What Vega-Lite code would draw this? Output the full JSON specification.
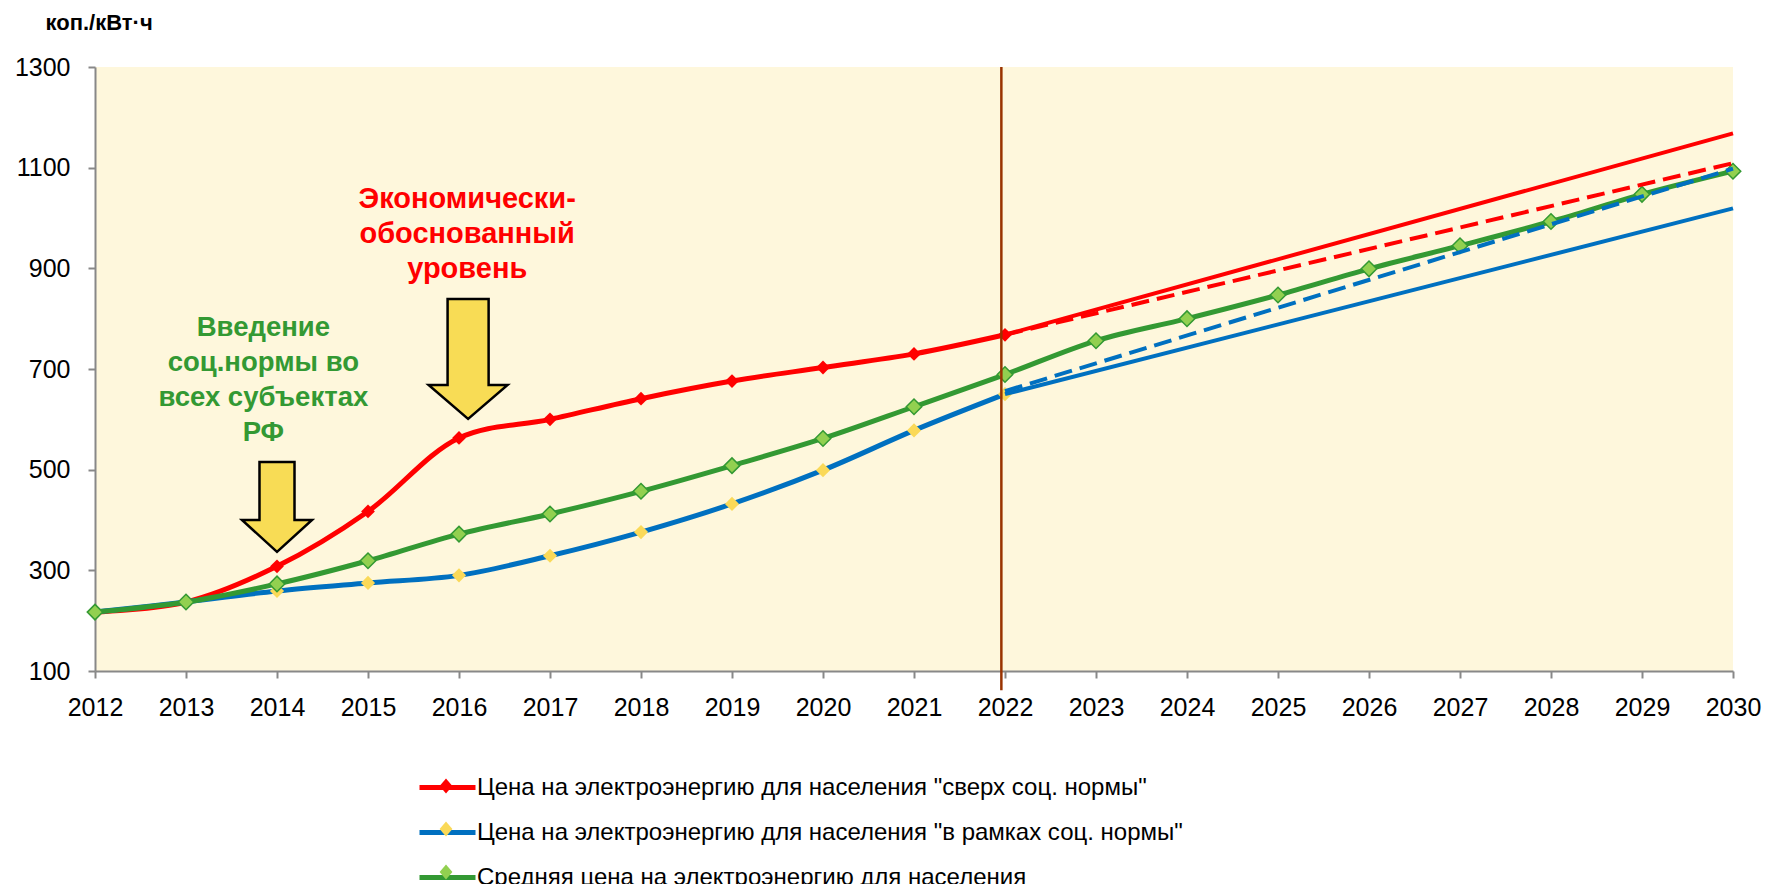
{
  "$schema": "https://vega.github.io/schema/vega-lite/v6.json",
  "width": 1638,
  "height": 604,
  "autosize": {"type": "none"},
  "padding": {"left": 95, "top": 67, "right": 34, "bottom": 213},
  "background": "#FFFFFF",
  "config": {
    "font": "Liberation Sans",
    "view": {"stroke": null, "fill": "#FEF7DC"},
    "axis": {
      "domainColor": "#888888", "domainWidth": 2, "tickColor": "#888888", "tickWidth": 2,
      "tickSize": 7, "labelFontSize": 25, "labelColor": "#000000", "grid": false, "labelPadding": 16,
      "labelFont": "Liberation Sans"
    }
  },
  "datasets": {
    "lines": [
      {"series": "Цена на электроэнергию для населения \"сверх соц. нормы\"", "part": "hist", "year": 2012, "value": 217},
      {"series": "Цена на электроэнергию для населения \"сверх соц. нормы\"", "part": "hist", "year": 2013, "value": 237},
      {"series": "Цена на электроэнергию для населения \"сверх соц. нормы\"", "part": "hist", "year": 2014, "value": 308},
      {"series": "Цена на электроэнергию для населения \"сверх соц. нормы\"", "part": "hist", "year": 2015, "value": 417},
      {"series": "Цена на электроэнергию для населения \"сверх соц. нормы\"", "part": "hist", "year": 2016, "value": 563},
      {"series": "Цена на электроэнергию для населения \"сверх соц. нормы\"", "part": "hist", "year": 2017, "value": 600},
      {"series": "Цена на электроэнергию для населения \"сверх соц. нормы\"", "part": "hist", "year": 2018, "value": 641},
      {"series": "Цена на электроэнергию для населения \"сверх соц. нормы\"", "part": "hist", "year": 2019, "value": 676},
      {"series": "Цена на электроэнергию для населения \"сверх соц. нормы\"", "part": "hist", "year": 2020, "value": 703},
      {"series": "Цена на электроэнергию для населения \"сверх соц. нормы\"", "part": "hist", "year": 2021, "value": 730},
      {"series": "Цена на электроэнергию для населения \"сверх соц. нормы\"", "part": "hist", "year": 2022, "value": 768},
      {"series": "Цена на электроэнергию для населения \"в рамках соц. нормы\"", "part": "hist", "year": 2012, "value": 217},
      {"series": "Цена на электроэнергию для населения \"в рамках соц. нормы\"", "part": "hist", "year": 2013, "value": 237},
      {"series": "Цена на электроэнергию для населения \"в рамках соц. нормы\"", "part": "hist", "year": 2014, "value": 259},
      {"series": "Цена на электроэнергию для населения \"в рамках соц. нормы\"", "part": "hist", "year": 2015, "value": 275},
      {"series": "Цена на электроэнергию для населения \"в рамках соц. нормы\"", "part": "hist", "year": 2016, "value": 290},
      {"series": "Цена на электроэнергию для населения \"в рамках соц. нормы\"", "part": "hist", "year": 2017, "value": 329},
      {"series": "Цена на электроэнергию для населения \"в рамках соц. нормы\"", "part": "hist", "year": 2018, "value": 376},
      {"series": "Цена на электроэнергию для населения \"в рамках соц. нормы\"", "part": "hist", "year": 2019, "value": 432},
      {"series": "Цена на электроэнергию для населения \"в рамках соц. нормы\"", "part": "hist", "year": 2020, "value": 499},
      {"series": "Цена на электроэнергию для населения \"в рамках соц. нормы\"", "part": "hist", "year": 2021, "value": 578},
      {"series": "Цена на электроэнергию для населения \"в рамках соц. нормы\"", "part": "hist", "year": 2022, "value": 650},
      {"series": "Средняя цена на электроэнергию для населения", "part": "hist", "year": 2012, "value": 217},
      {"series": "Средняя цена на электроэнергию для населения", "part": "hist", "year": 2013, "value": 237},
      {"series": "Средняя цена на электроэнергию для населения", "part": "hist", "year": 2014, "value": 273},
      {"series": "Средняя цена на электроэнергию для населения", "part": "hist", "year": 2015, "value": 319},
      {"series": "Средняя цена на электроэнергию для населения", "part": "hist", "year": 2016, "value": 372},
      {"series": "Средняя цена на электроэнергию для населения", "part": "hist", "year": 2017, "value": 412},
      {"series": "Средняя цена на электроэнергию для населения", "part": "hist", "year": 2018, "value": 457},
      {"series": "Средняя цена на электроэнергию для населения", "part": "hist", "year": 2019, "value": 508},
      {"series": "Средняя цена на электроэнергию для населения", "part": "hist", "year": 2020, "value": 562},
      {"series": "Средняя цена на электроэнергию для населения", "part": "hist", "year": 2021, "value": 625},
      {"series": "Средняя цена на электроэнергию для населения", "part": "hist", "year": 2022, "value": 689},
      {"series": "Средняя цена на электроэнергию для населения", "part": "hist", "year": 2023, "value": 756},
      {"series": "Средняя цена на электроэнергию для населения", "part": "hist", "year": 2024, "value": 800},
      {"series": "Средняя цена на электроэнергию для населения", "part": "hist", "year": 2025, "value": 847},
      {"series": "Средняя цена на электроэнергию для населения", "part": "hist", "year": 2026, "value": 899},
      {"series": "Средняя цена на электроэнергию для населения", "part": "hist", "year": 2027, "value": 945},
      {"series": "Средняя цена на электроэнергию для населения", "part": "hist", "year": 2028, "value": 993},
      {"series": "Средняя цена на электроэнергию для населения", "part": "hist", "year": 2029, "value": 1047},
      {"series": "Средняя цена на электроэнергию для населения", "part": "hist", "year": 2030, "value": 1093},
      {"series": "Цена на электроэнергию для населения \"сверх соц. нормы\"", "part": "solid", "year": 2022, "value": 768},
      {"series": "Цена на электроэнергию для населения \"сверх соц. нормы\"", "part": "solid", "year": 2030, "value": 1168},
      {"series": "Цена на электроэнергию для населения \"в рамках соц. нормы\"", "part": "solid", "year": 2022, "value": 650},
      {"series": "Цена на электроэнергию для населения \"в рамках соц. нормы\"", "part": "solid", "year": 2030, "value": 1019},
      {"series": "Цена на электроэнергию для населения \"сверх соц. нормы\"", "part": "dash", "year": 2022, "value": 768},
      {"series": "Цена на электроэнергию для населения \"сверх соц. нормы\"", "part": "dash", "year": 2030, "value": 1109},
      {"series": "Цена на электроэнергию для населения \"в рамках соц. нормы\"", "part": "dash", "year": 2022, "value": 656},
      {"series": "Цена на электроэнергию для населения \"в рамках соц. нормы\"", "part": "dash", "year": 2030, "value": 1098}
    ]
  },
  "encoding": {
    "x": {
      "field": "year", "type": "quantitative",
      "scale": {"domain": [2012, 2030], "nice": false, "zero": false},
      "axis": {"values": [2012,2013,2014,2015,2016,2017,2018,2019,2020,2021,2022,2023,2024,2025,2026,2027,2028,2029,2030], "format": "d", "title": null, "labelFlush": false, "labelPadding": 17}
    },
    "y": {
      "field": "value", "type": "quantitative",
      "scale": {"domain": [100, 1300], "nice": false, "zero": false},
      "axis": {"values": [100,300,500,700,900,1100,1300], "format": "d", "title": "коп./кВт·ч", "titleAngle": 0, "titleX": -50, "titleY": -45,
        "titleAlign": "left", "titleBaseline": "middle", "titleFontSize": 22, "titleFontWeight": "bold", "titleColor": "#000000", "labelPadding": 18}
    }
  },
  "layer": [
    {
      "data": {"name": "lines"},
      "transform": [{"filter": "datum.part === 'hist' && datum.series === 'Цена на электроэнергию для населения \"сверх соц. нормы\"'"}],
      "mark": {"type": "line", "interpolate": "catmull-rom", "strokeWidth": 5},
      "encoding": {
        "color": {"field": "series", "type": "nominal", "sort": "descending",
          "scale": {"range": ["#FF0000", "#0070C0", "#339933"]},
          "legend": {"orient": "none", "legendX": 330, "legendY": 698, "direction": "vertical", "title": null,
            "symbolType": "M-1.4,0H1.4", "symbolSize": 1600, "symbolStrokeWidth": 5, "labelFontSize": 24, "labelOffset": 7,
            "rowPadding": 10, "padding": 0, "zindex": 0, "labelLimit": 1200, "labelColor": "#000000", "labelFont": "Liberation Sans"}}
      }
    },
    {
      "data": {"name": "lines"},
      "transform": [{"filter": "datum.part === 'hist' && datum.series === 'Цена на электроэнергию для населения \"сверх соц. нормы\"'"}],
      "mark": {"type": "point", "shape": "diamond", "size": 190, "filled": true, "opacity": 1, "strokeWidth": 0},
      "encoding": {
        "fill": {"field": "series", "type": "nominal",
          "scale": {"domain": ["Цена на электроэнергию для населения \"сверх соц. нормы\"", "Цена на электроэнергию для населения \"в рамках соц. нормы\"", "Средняя цена на электроэнергию для населения"], "range": ["#FF0000", "#FAD958", "#92D050"]},
          "legend": {"orient": "none", "legendX": 330, "legendY": 698, "direction": "vertical", "title": null,
            "symbolType": "M0,-0.38L0.32,0L0,0.38L-0.32,0Z", "symbolSize": 1600, "symbolStrokeWidth": 1.5, "labelFontSize": 24, "labelOffset": 7,
            "rowPadding": 10, "padding": 0, "zindex": 1, "labelLimit": 1200, "labelExpr": "''", "labelFont": "Liberation Sans",
            "encode": {"symbols": {"update": {"stroke": {"signal": "datum.value === 'Средняя цена на электроэнергию для населения' ? '#339933' : 'transparent'"}, "strokeWidth": {"value": 1.5}}}}}}
      }
    },
    {
      "data": {"name": "lines"},
      "transform": [{"filter": "datum.part === 'hist' && datum.series === 'Цена на электроэнергию для населения \"в рамках соц. нормы\"'"}],
      "mark": {"type": "line", "interpolate": "catmull-rom", "strokeWidth": 5},
      "encoding": {"color": {"field": "series", "type": "nominal", "sort": "descending"}}
    },
    {
      "data": {"name": "lines"},
      "transform": [{"filter": "datum.part === 'hist' && datum.series === 'Цена на электроэнергию для населения \"в рамках соц. нормы\"' && datum.year >= 2014"}],
      "mark": {"type": "point", "shape": "diamond", "size": 200, "filled": true, "opacity": 1, "strokeWidth": 0},
      "encoding": {"fill": {"field": "series", "type": "nominal"}}
    },
    {
      "data": {"name": "lines"},
      "transform": [{"filter": "datum.part === 'hist' && datum.series === 'Средняя цена на электроэнергию для населения'"}],
      "mark": {"type": "line", "interpolate": "catmull-rom", "strokeWidth": 5},
      "encoding": {"color": {"field": "series", "type": "nominal", "sort": "descending"}}
    },
    {
      "data": {"name": "lines"},
      "transform": [{"filter": "datum.part === 'hist' && datum.series === 'Средняя цена на электроэнергию для населения'"}],
      "mark": {"type": "point", "shape": "diamond", "size": 240, "filled": true, "opacity": 1, "stroke": "#339933", "strokeWidth": 1.5},
      "encoding": {"fill": {"field": "series", "type": "nominal"}}
    },
    {
      "data": {"name": "lines"},
      "transform": [{"filter": "datum.part === 'solid'"}],
      "mark": {"type": "line", "strokeWidth": 4},
      "encoding": {"color": {"field": "series", "type": "nominal", "sort": "descending"}}
    },
    {
      "data": {"name": "lines"},
      "transform": [{"filter": "datum.part === 'dash'"}],
      "mark": {"type": "line", "strokeWidth": 4, "strokeDash": [18, 8]},
      "encoding": {"color": {"field": "series", "type": "nominal", "sort": "descending"}}
    },
    {
      "data": {"values": [{"year": 2014, "value": 426}]},
      "mark": {"type": "point", "shape": "M-0.389,-1L0.389,-1L0.389,0.289L0.778,0.289L0,1L-0.778,0.289L-0.389,0.289Z", "size": 8100, "filled": true, "fill": "#F8DC55", "stroke": "#000000", "strokeWidth": 2.5, "opacity": 1}
    },
    {
      "data": {"values": [{"year": 2016.1, "value": 720}]},
      "mark": {"type": "point", "shape": "M-0.342,-1L0.342,-1L0.342,0.433L0.658,0.433L0,1L-0.658,0.433L-0.342,0.433Z", "size": 14400, "filled": true, "fill": "#F8DC55", "stroke": "#000000", "strokeWidth": 2.5, "opacity": 1}
    },
    {
      "data": {"values": [{"year": 2016.09, "value": 1020, "label": "Экономически-\nобоснованный\nуровень"}]},
      "mark": {"type": "text", "align": "center", "baseline": "alphabetic", "fontSize": 29, "fontWeight": "bold", "color": "#FF0000", "lineHeight": 35, "lineBreak": "\n"},
      "encoding": {"text": {"field": "label"}}
    },
    {
      "data": {"values": [{"year": 2013.85, "value": 766, "label": "Введение\nсоц.нормы во\nвсех субъектах\nРФ"}]},
      "mark": {"type": "text", "align": "center", "baseline": "alphabetic", "fontSize": 27.5, "fontWeight": "bold", "color": "#339933", "lineHeight": 35, "lineBreak": "\n"},
      "encoding": {"text": {"field": "label"}}
    },
    {
      "data": {"values": [{"year": 2021.96, "value": 1300, "value2": 62}]},
      "mark": {"type": "rule", "color": "#993300", "strokeWidth": 2.5, "clip": false},
      "encoding": {"y": {"field": "value", "type": "quantitative"}, "y2": {"field": "value2"}}
    }
  ]
}
